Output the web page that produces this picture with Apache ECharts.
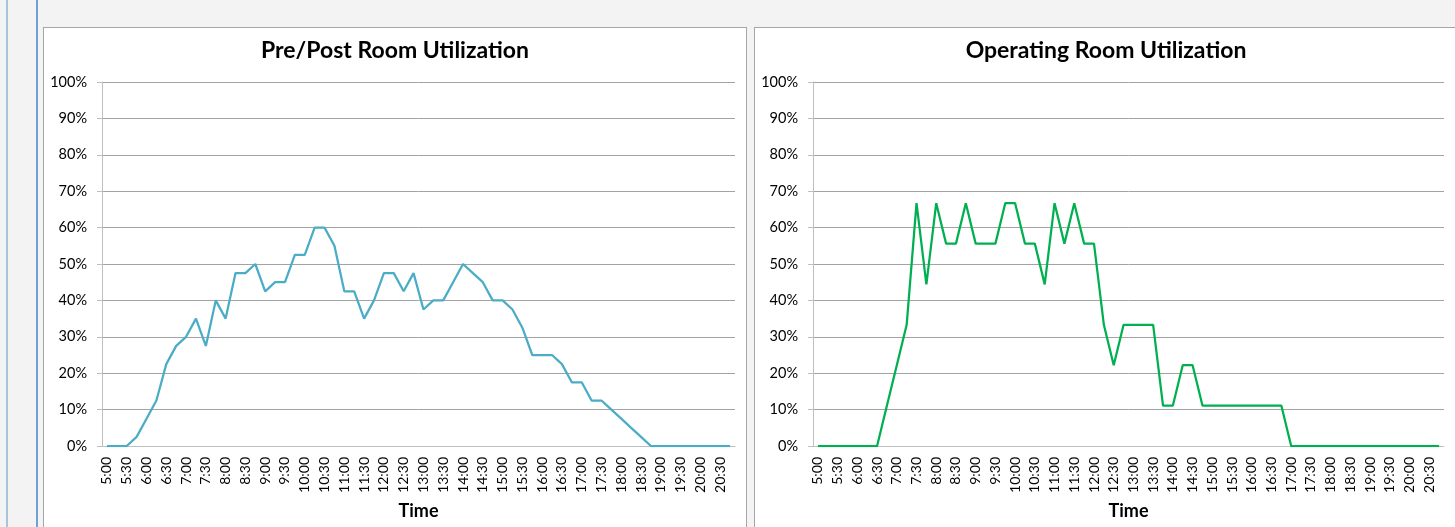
<!DOCTYPE html>
<html>
<head>
<meta charset="utf-8">
<title>Room Utilization</title>
<script src="https://cdn.jsdelivr.net/npm/echarts@6/dist/echarts.min.js"></script>
<style>
  html, body { margin: 0; padding: 0; width: 1455px; height: 527px; overflow: hidden; background: #f3f3f3; }
  .vline { position: absolute; top: 0; width: 2px; height: 527px; }
  .panel { position: absolute; top: 27px; height: 520px; background: #fff; border: 1px solid #a6a6a6; box-sizing: border-box; }
  #chart { position: absolute; left: 0; top: 0; width: 1455px; height: 527px; }
</style>
</head>
<body>
<div class="vline" style="left:6px;background:#a9c3dc;"></div>
<div class="vline" style="left:36px;background:#6fa3d6;"></div>
<div class="panel" style="left:43px;width:704px;"></div>
<div class="panel" style="left:754px;width:704px;"></div>
<div id="chart"></div>
<script>
// 15-minute time slots from 5:00 to 20:45
const timeSlots = [
  '5:00','5:15','5:30','5:45','6:00','6:15','6:30','6:45',
  '7:00','7:15','7:30','7:45','8:00','8:15','8:30','8:45',
  '9:00','9:15','9:30','9:45','10:00','10:15','10:30','10:45',
  '11:00','11:15','11:30','11:45','12:00','12:15','12:30','12:45',
  '13:00','13:15','13:30','13:45','14:00','14:15','14:30','14:45',
  '15:00','15:15','15:30','15:45','16:00','16:15','16:30','16:45',
  '17:00','17:15','17:30','17:45','18:00','18:15','18:30','18:45',
  '19:00','19:15','19:30','19:45','20:00','20:15','20:30','20:45'
];

// Pre/Post room utilization, percent
const prePostUtil = [
  0, 0, 0, 2.5, 7.5, 12.5, 22.5, 27.5,
  30, 35, 27.5, 40, 35, 47.5, 47.5, 50,
  42.5, 45, 45, 52.5, 52.5, 60, 60, 55,
  42.5, 42.5, 35, 40, 47.5, 47.5, 42.5, 47.5,
  37.5, 40, 40, 45, 50, 47.5, 45, 40,
  40, 37.5, 32.5, 25, 25, 25, 22.5, 17.5,
  17.5, 12.5, 12.5, 10, 7.5, 5, 2.5, 0,
  0, 0, 0, 0, 0, 0, 0, 0
];

// Operating room utilization, percent
const operatingUtil = [
  0, 0, 0, 0, 0, 0, 0, 11.1,
  22.2, 33.3, 66.7, 44.4, 66.7, 55.6, 55.6, 66.7,
  55.6, 55.6, 55.6, 66.7, 66.7, 55.6, 55.6, 44.4,
  66.7, 55.6, 66.7, 55.6, 55.6, 33.3, 22.2, 33.3,
  33.3, 33.3, 33.3, 11.1, 11.1, 22.2, 22.2, 11.1,
  11.1, 11.1, 11.1, 11.1, 11.1, 11.1, 11.1, 11.1,
  0, 0, 0, 0, 0, 0, 0, 0,
  0, 0, 0, 0, 0, 0, 0, 0
];

const chartTitles = ['Pre/Post Room Utilization', 'Operating Room Utilization'];
const xAxisName = 'Time';

const FONT = 'Lato, "Open Sans", sans-serif';
const AXIS_GRAY = '#bfbfbf';
const GRID_GRAY = '#a3a3a3';

function makeXAxis(gridIndex) {
  return {
    type: 'category',
    gridIndex: gridIndex,
    data: timeSlots,
    boundaryGap: true,
    name: xAxisName,
    nameLocation: 'middle',
    nameGap: 56,
    nameTextStyle: { fontFamily: FONT, fontSize: 18, fontWeight: 'bold', color: '#000' },
    axisLine: { lineStyle: { color: AXIS_GRAY, width: 1 } },
    axisTick: { interval: 0, length: 5, lineStyle: { color: AXIS_GRAY } },
    axisLabel: { interval: 1, rotate: 90, margin: 11, fontFamily: FONT, fontSize: 14, color: '#000' },
    splitLine: { show: false }
  };
}

function makeYAxis(gridIndex) {
  return {
    type: 'value',
    gridIndex: gridIndex,
    min: 0,
    max: 100,
    interval: 10,
    axisLine: { show: true, lineStyle: { color: AXIS_GRAY, width: 1 } },
    axisTick: { show: true, length: 5, lineStyle: { color: AXIS_GRAY } },
    axisLabel: { formatter: '{value}%', margin: 15, fontFamily: FONT, fontSize: 14.5, color: '#000' },
    splitLine: { show: true, lineStyle: { color: GRID_GRAY, width: 1 } }
  };
}

const chart = echarts.init(document.getElementById('chart'), null, { renderer: 'canvas' });

chart.setOption({
  animation: false,
  backgroundColor: 'transparent',
  graphic: [
    { type: 'text', x: 395, y: 51, style: { text: chartTitles[0], align: 'center', verticalAlign: 'middle', font: 'bold 23px ' + FONT, fill: '#000' } },
    { type: 'text', x: 1106, y: 51, style: { text: chartTitles[1], align: 'center', verticalAlign: 'middle', font: 'bold 23px ' + FONT, fill: '#000' } }
  ],
  grid: [
    { left: 102, top: 82, width: 633, height: 364 },
    { left: 813, top: 82, width: 631, height: 364 }
  ],
  xAxis: [makeXAxis(0), makeXAxis(1)],
  yAxis: [makeYAxis(0), makeYAxis(1)],
  series: [
    {
      name: chartTitles[0],
      type: 'line',
      xAxisIndex: 0,
      yAxisIndex: 0,
      data: prePostUtil,
      showSymbol: false,
      lineStyle: { color: '#4bacc6', width: 2.25 },
      itemStyle: { color: '#4bacc6' }
    },
    {
      name: chartTitles[1],
      type: 'line',
      xAxisIndex: 1,
      yAxisIndex: 1,
      data: operatingUtil,
      showSymbol: false,
      lineStyle: { color: '#00b050', width: 2.25 },
      itemStyle: { color: '#00b050' }
    }
  ]
});
</script>
</body>
</html>
